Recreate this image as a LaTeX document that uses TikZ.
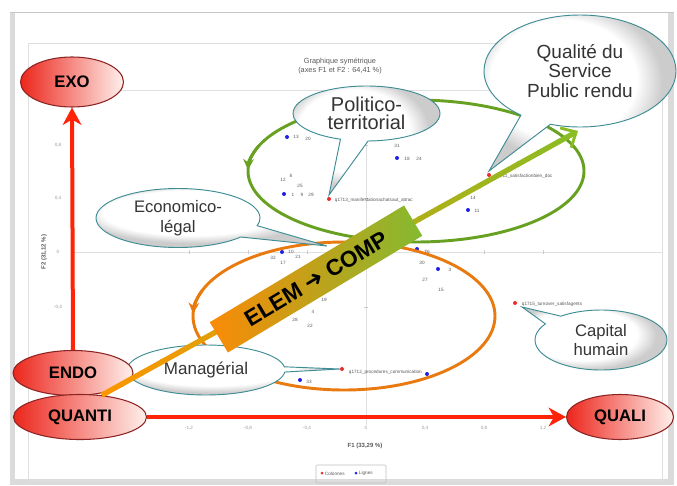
\documentclass[tikz,border=0pt]{standalone}
\usepackage{fontspec}
\setmainfont{Liberation Sans}
\newfontfamily\arrowfont{DejaVu Sans}
\usetikzlibrary{arrows.meta,shapes.geometric,shapes.callouts,calc}
\definecolor{poleRed}{RGB}{236, 38, 28}
\definecolor{poleLight}{RGB}{255, 240, 236}
\definecolor{poleEdge}{RGB}{140, 36, 36}
\definecolor{poleArrow}{RGB}{255, 36, 8}
\definecolor{grpGreen}{RGB}{104, 160, 34}
\definecolor{grpOrange}{RGB}{232, 122, 16}
\definecolor{bubEdge}{RGB}{62, 140, 148}
\definecolor{banOr}{RGB}{250, 138, 6}
\definecolor{banGr}{RGB}{132, 186, 48}
\definecolor{arrOr}{RGB}{250, 150, 0}
\definecolor{arrGr}{RGB}{140, 188, 36}
\definecolor{ptBlue}{RGB}{32, 32, 232}
\definecolor{ptRed}{RGB}{238, 44, 44}
\definecolor{txtGray}{RGB}{52, 52, 52}
\pgfdeclareradialshading{bubbleshade}{\pgfpoint{-7bp}{7bp}}{color(0bp)=(white); color(19bp)=(white); color(25bp)=(black!20); color(50bp)=(black!20)}

\tikzset{
  pole/.style={ellipse, draw=poleEdge, line width=0.8pt, left color=poleRed, right color=poleLight,
    font=\bfseries\fontsize{12.5}{14}\selectfont, inner sep=0pt},
  bubble/.style={ellipse callout, draw=bubEdge, line width=0.7pt, shading=bubbleshade,
    text=txtGray, align=center, inner sep=0pt},
  redArrow/.style={poleArrow, line width=3pt, -{Stealth[length=13pt, width=14pt, inset=4pt]}},
  banner/.style={rectangle, minimum width=170pt, minimum height=26.5pt, left color=banOr, right color=banGr,
    font=\bfseries\fontsize{17}{17}\selectfont, inner sep=0pt},
  ticklab/.style={font=\fontsize{3.5}{4}\selectfont, text=gray!80},
  datalab/.style={font=\fontsize{3.5}{4}\selectfont, text=gray!70!black, inner sep=0.5pt},
}

\begin{document}
\begin{tikzpicture}[x=0.75pt, y=-0.75pt]
  \useasboundingbox (0,0) rectangle (677,485);

  % Cadre de la capture
  \fill[gray!28] (10,12) rectangle (674,485);
  \fill[white] (15,13) rectangle (668,479);
  \draw[gray!45, line width=0.6pt] (10,12) -- (674,12);
  \draw[gray!25] (28,43) rectangle (662,480);
  \draw[gray!25] (28,90) -- (662,90);

  % Graphique symetrique
  \node[font=\fontsize{5.5}{6.5}\selectfont, text=gray!70!black, align=center] (titre) at (340,66)
    {Graphique symétrique\\(axes F1 et F2 : 64,41 \%)};
  \draw[gray!25] (73,252) -- (662,252);
  \draw[gray!25] (366,90) -- (366,425);
  \foreach \x/\lab in {189/{-1,2}, 248/{-0,8}, 307/{-0,4}, 366/0, 425/{0,4}, 484/{0,8}, 543/{1,2}}{
    \draw[gray!40] (\x,250) -- (\x,254);
    \node[ticklab] at (\x,428) {\lab};
  }
  \foreach \y/\lab in {145/{0,8}, 198/{0,4}, 252/0, 307/{-0,4}}{
    \draw[gray!40] (364,\y) -- (368,\y);
    \node[ticklab] at (58,\y) {\lab};
  }
  \node[font=\bfseries\fontsize{4.5}{5}\selectfont, text=gray!70!black] (axeF1) at (365,446) {F1 (33,29 \%)};
  \node[font=\bfseries\fontsize{4.5}{5}\selectfont, text=gray!70!black, rotate=90] (axeF2) at (44,252) {F2 (31,12 \%)};
  % Legende
  \draw[gray!50, rounded corners=1pt] (316,465) rectangle (386,483);
  \fill[ptRed] (322,473) circle (1.5);
  \node[datalab, anchor=west] (legCol) at (324,473.5) {Colonnes};
  \fill[ptBlue] (356,473) circle (1.5);
  \node[datalab, anchor=west] (legLig) at (358,473.5) {Lignes};

  % Points
  \foreach \px/\py in {287/137, 284/194, 397/158, 468/210, 282/252, 417/249, 438/269, 300/380, 427/374}
    \fill[ptBlue] (\px,\py) circle (2);
  \coordinate (dPol) at (329,199);
  \coordinate (dQsp) at (489,175);
  \coordinate (dMan) at (342,369);
  \coordinate (dCap) at (515,303);
  \foreach \pt in {dPol, dQsp, dMan, dCap}
    \fill[ptRed] (\pt) circle (2);
  \foreach \px/\py/\lab in {296/137/13, 308/139/20, 283/180/12, 291/176/8, 300/186/25, 293/195/1, 302/195/9,
      311/195/29, 397/146/31, 407/159/18, 419/159/24, 473/198/14, 477/211/11, 291/252/10, 298/257/21,
      273/258/32, 283/263/17, 324/300/19, 313/312/4, 295/320/28, 310/326/22, 427/252/26, 422/263/30,
      450/270/3, 425/280/27, 441/290/15, 309/382/33}
    \node[datalab] at (\px,\py) {\lab};
  \node[datalab, anchor=west] (lPol) at (334,200) {q1713\_manifestationachatsaut\_attrac};
  \node[datalab, anchor=west] (lQsp) at (494,176) {q1711\_satisfactionbien\_doc};
  \node[datalab, anchor=west] (lMan) at (348,372) {q1712\_procedures\_communication};
  \node[datalab, anchor=west] (lCap) at (521,304) {q1715\_turnover\_satisfagents};

  % Groupes
  \draw[grpGreen, line width=2.2pt] (416,171) ellipse [x radius=168, y radius=71];
  \draw[grpGreen, line width=2.2pt, -{Stealth[length=8pt, width=8pt]}]
    (416,171) ++(200:168 and 71) arc[start angle=200, end angle=181, x radius=168, y radius=71];
  \draw[grpOrange, line width=2.2pt] (344,316) ellipse [x radius=151, y radius=74];
  \draw[grpOrange, line width=2.2pt, -{Stealth[length=8pt, width=8pt]}]
    (344,316) ++(200:151 and 74) arc[start angle=200, end angle=182, x radius=151, y radius=74];

  % Bulles
  \coordinate (ptrPol) at (329,195);
  \coordinate (ptrQsp) at (489,171);
  \coordinate (ptrEco) at (327,246);
  \coordinate (ptrMan) at (340,369);
  \coordinate (ptrCap) at (522,307);
  \node[bubble, minimum width=110.25pt, minimum height=41.25pt, callout absolute pointer=(ptrPol),
    callout pointer arc=22, font=\fontsize{15}{13.5}\selectfont] (cPol) at (366.5,113.5) {Politico-\\territorial};
  \node[bubble, minimum width=144pt, minimum height=84pt, callout absolute pointer=(ptrQsp),
    callout pointer arc=20, font=\fontsize{14.25}{14.6}\selectfont] (cQsp) at (580,71) {Qualité du\\Service\\Public rendu};
  \node[bubble, minimum width=123pt, minimum height=44.25pt, callout absolute pointer=(ptrEco),
    callout pointer arc=25, font=\fontsize{12.5}{15}\selectfont] (cEco) at (178,218) {Economico-\\légal};
  \node[bubble, minimum width=118.5pt, minimum height=37.5pt, callout absolute pointer=(ptrMan),
    callout pointer arc=12, font=\fontsize{12.75}{14}\selectfont] (cMan) at (206,370) {Managérial};
  \node[bubble, minimum width=99pt, minimum height=45pt, callout absolute pointer=(ptrCap),
    callout pointer arc=20, font=\fontsize{12.5}{14.25}\selectfont] (cCap) at (601,340) {Capital\\humain};

  % Poles
  \node[pole, minimum width=77.25pt, minimum height=37.5pt] (EXO) at (72,82) {EXO};
  \node[pole, minimum width=90pt, minimum height=33.75pt] (ENDO) at (73,373) {ENDO};
  \node[pole, minimum width=99.75pt, minimum height=33.75pt] (QUANTI) at (80,417) {QUANTI};
  \node[pole, minimum width=80.25pt, minimum height=33.75pt] (QUALI) at (620,417) {QUALI};
  \draw[redArrow] (ENDO.north) -- (EXO.south);
  \draw[redArrow] (QUANTI.east) -- (QUALI.west);

  % Fleche degradee ELEM -> COMP
  \coordinate (qspTip) at (578,131);
  \foreach \i in {0,...,22}{
    \pgfmathsetmacro\ta{\i/24}
    \pgfmathsetmacro\tb{(\i+1)/24+0.002}
    \pgfmathsetmacro\mixp{100-\i*100/23}
    \draw[line width=4pt, arrOr!\mixp!arrGr] ($(QUANTI.45)!\ta!(qspTip)$) -- ($(QUANTI.45)!\tb!(qspTip)$);
  }
  \draw[arrGr, line width=4pt, -{Straight Barb[length=9pt, width=17pt, line width=2.2pt]}]
    ($(QUANTI.45)!23/24!(qspTip)$) -- (qspTip);
  \node[banner, rotate=31] (elemComp) at (316,279) {ELEM {\arrowfont ➜} COMP};
\end{tikzpicture}
\end{document}
